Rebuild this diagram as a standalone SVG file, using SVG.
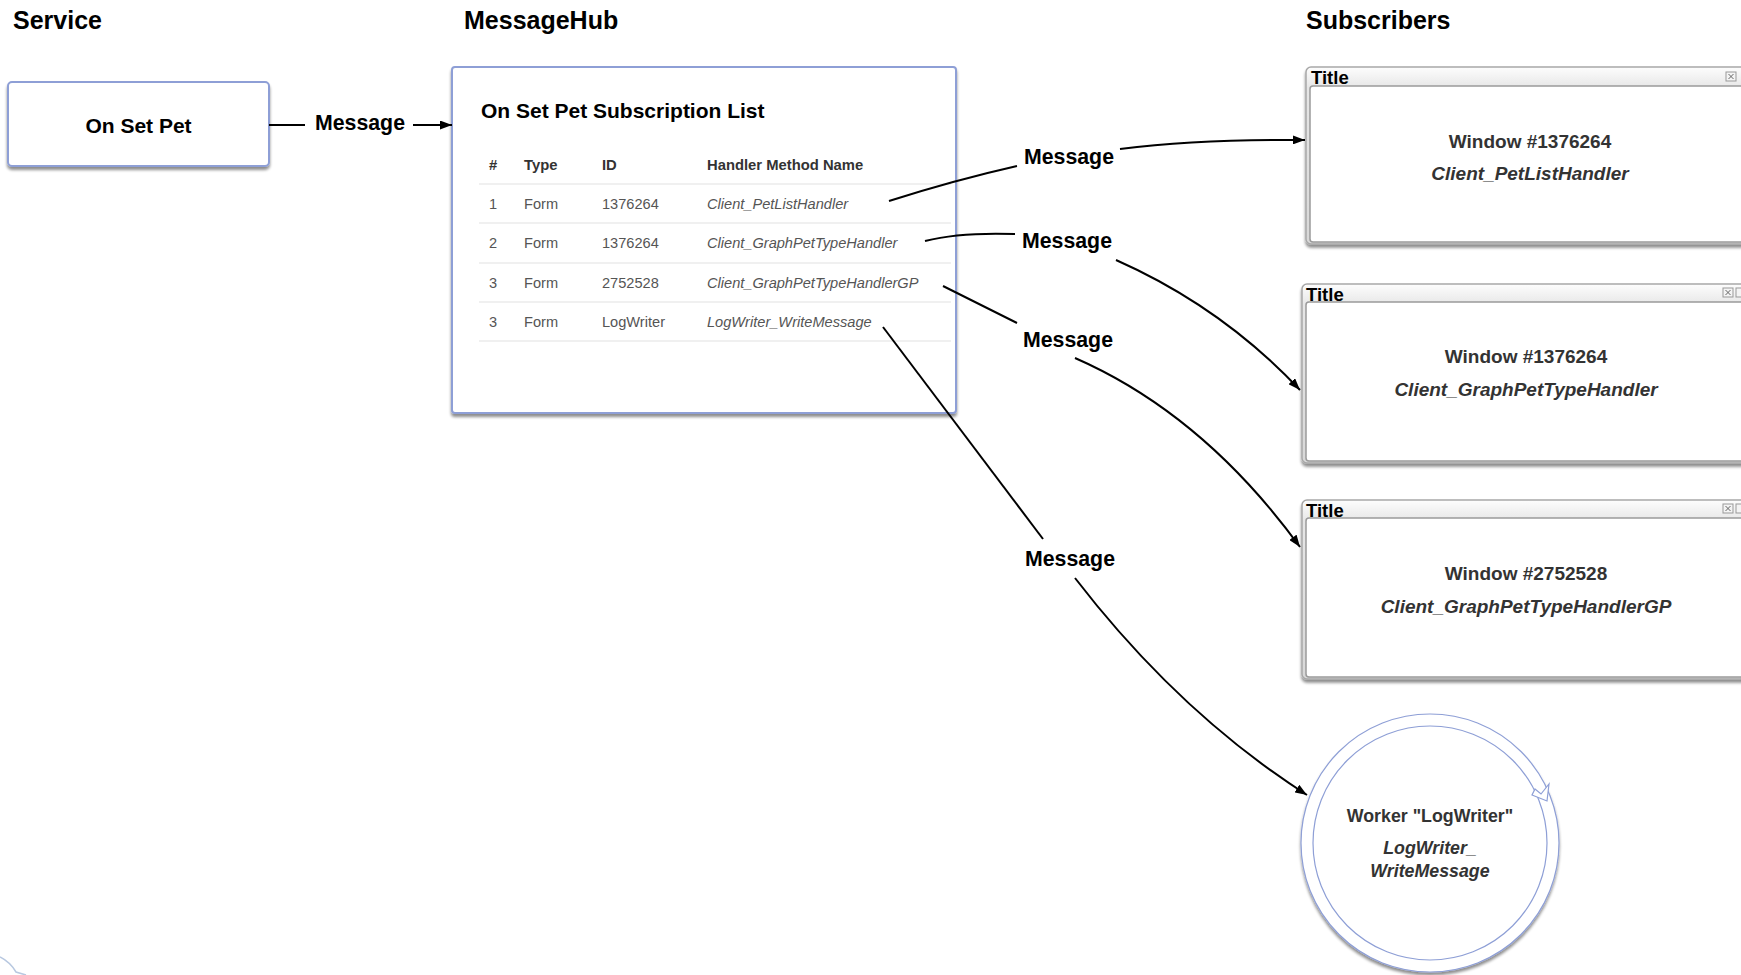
<svg xmlns="http://www.w3.org/2000/svg" width="1741" height="975" viewBox="0 0 1741 975">
<defs>
<style>
.title{font-family:"Liberation Sans",Arial,sans-serif;font-weight:bold;font-size:25px;fill:#000}
.lbl{font-family:"Liberation Sans",Arial,sans-serif;font-weight:bold;font-size:21.3px;fill:#000}
.hdr{font-family:"Liberation Sans",Arial,sans-serif;font-weight:bold;font-size:14.8px;fill:#333}
.cell{font-family:"Liberation Sans",Arial,sans-serif;font-size:14.6px;fill:#555}
.it{font-style:italic}
.win{font-family:"Liberation Sans",Arial,sans-serif;font-weight:bold;font-size:19px;fill:#333;text-anchor:middle}
.wt{font-family:"Liberation Sans",Arial,sans-serif;font-weight:bold;font-size:18.5px;fill:#000}
.wrk{font-family:"Liberation Sans",Arial,sans-serif;font-weight:bold;font-size:17.8px;fill:#333;text-anchor:middle}
.box{fill:#fff;stroke:#8e9fd6;stroke-width:2}
.rule{stroke:#e2e2e2;stroke-width:1.2}
.conn{fill:none;stroke:#000;stroke-width:2}
.frame{fill:url(#tb);stroke:#a8a8a8;stroke-width:1.5}
.content{fill:#fff;stroke:#9a9a9a;stroke-width:1.5}
.btn{fill:#f4f4f4;stroke:#999;stroke-width:1}
</style>
<linearGradient id="tb" x1="0" y1="0" x2="0" y2="1">
<stop offset="0" stop-color="#fdfdfd"/>
<stop offset="0.12" stop-color="#e6e6e6"/>
<stop offset="1" stop-color="#d8d8d8"/>
</linearGradient>
<filter id="sh" x="-5%" y="-5%" width="110%" height="115%">
<feGaussianBlur in="SourceAlpha" stdDeviation="1.5"/>
<feOffset dx="0" dy="3" result="b"/>
<feComponentTransfer><feFuncA type="linear" slope="0.45"/></feComponentTransfer>
<feMerge><feMergeNode/><feMergeNode in="SourceGraphic"/></feMerge>
</filter>
<marker id="ah" viewBox="0 0 12 9" refX="12" refY="4.5" markerWidth="12" markerHeight="9" markerUnits="userSpaceOnUse" orient="auto">
<path d="M0,0 L12,4.5 L0,9 z" fill="#000"/>
</marker>
</defs>
<rect width="1741" height="975" fill="#fff"/>

<text class="title" x="13" y="29">Service</text>
<text class="title" x="464" y="29">MessageHub</text>
<text class="title" x="1306" y="29">Subscribers</text>

<g id="service">
<rect class="box" x="8" y="82" width="261" height="84" rx="4" filter="url(#sh)"/>
<text class="lbl" x="138.5" y="133" text-anchor="middle" style="font-size:21px">On Set Pet</text>
</g>

<g id="hub">
<rect class="box" x="452" y="67" width="504" height="346" rx="3" filter="url(#sh)"/>
<text class="lbl" x="481" y="118" style="font-size:21px">On Set Pet Subscription List</text>
<text class="hdr" x="489" y="170">#</text>
<text class="hdr" x="524" y="170">Type</text>
<text class="hdr" x="602" y="170">ID</text>
<text class="hdr" x="707" y="170">Handler Method Name</text>
<line class="rule" x1="479" y1="184" x2="951" y2="184"/>
<line class="rule" x1="479" y1="223" x2="951" y2="223"/>
<line class="rule" x1="479" y1="263" x2="951" y2="263"/>
<line class="rule" x1="479" y1="302" x2="951" y2="302"/>
<line class="rule" x1="479" y1="341" x2="951" y2="341"/>
<text class="cell" x="489" y="209">1</text>
<text class="cell" x="524" y="209">Form</text>
<text class="cell" x="602" y="209">1376264</text>
<text class="cell it" x="707" y="209">Client_PetListHandler</text>
<text class="cell" x="489" y="248">2</text>
<text class="cell" x="524" y="248">Form</text>
<text class="cell" x="602" y="248">1376264</text>
<text class="cell it" x="707" y="248">Client_GraphPetTypeHandler</text>
<text class="cell" x="489" y="288">3</text>
<text class="cell" x="524" y="288">Form</text>
<text class="cell" x="602" y="288">2752528</text>
<text class="cell it" x="707" y="288">Client_GraphPetTypeHandlerGP</text>
<text class="cell" x="489" y="327">3</text>
<text class="cell" x="524" y="327">Form</text>
<text class="cell" x="602" y="327">LogWriter</text>
<text class="cell it" x="707" y="327">LogWriter_WriteMessage</text>
</g>

<g id="window1">
<rect class="frame" x="1306" y="67" width="460" height="177" rx="5" filter="url(#sh)"/>
<rect class="content" x="1310" y="86" width="460" height="156" rx="3"/>
<text class="wt" x="1311" y="84">Title</text>
<rect class="btn" x="1726" y="72" width="10" height="9"/>
<path d="M1728.5,74 L1733.5,79 M1733.5,74 L1728.5,79" stroke="#666" stroke-width="1"/>
<text class="win" x="1530" y="148">Window #1376264</text>
<text class="win it" x="1530" y="180">Client_PetListHandler</text>
</g>

<g id="window2">
<rect class="frame" x="1302" y="284" width="460" height="179" rx="5" filter="url(#sh)"/>
<rect class="content" x="1306" y="302" width="460" height="159" rx="3"/>
<text class="wt" x="1306" y="301">Title</text>
<rect class="btn" x="1723" y="288" width="10" height="9"/>
<path d="M1725.5,290 L1730.5,295 M1730.5,290 L1725.5,295" stroke="#666" stroke-width="1"/>
<rect class="btn" x="1736" y="288" width="10" height="9"/>
<text class="win" x="1526" y="363">Window #1376264</text>
<text class="win it" x="1526" y="396">Client_GraphPetTypeHandler</text>
</g>

<g id="window3">
<rect class="frame" x="1302" y="500" width="460" height="179" rx="5" filter="url(#sh)"/>
<rect class="content" x="1306" y="518" width="460" height="159" rx="3"/>
<text class="wt" x="1306" y="517">Title</text>
<rect class="btn" x="1723" y="504" width="10" height="9"/>
<path d="M1725.5,506 L1730.5,511 M1730.5,506 L1725.5,511" stroke="#666" stroke-width="1"/>
<rect class="btn" x="1736" y="504" width="10" height="9"/>
<text class="win" x="1526" y="580">Window #2752528</text>
<text class="win it" x="1526" y="613">Client_GraphPetTypeHandlerGP</text>
</g>

<g id="worker">
<circle cx="1430" cy="843" r="129" fill="#fff" stroke="#8e9fd6" stroke-width="1.2" filter="url(#sh)"/>
<circle cx="1430" cy="843" r="117" fill="#fff" stroke="#8e9fd6" stroke-width="1.2"/>
<path d="M1535,789 L1541,794 L1549,784 L1547,801 L1532,795 Z" fill="#fff" stroke="#8e9fd6" stroke-width="1.2"/>
<text class="wrk" x="1430" y="822">Worker "LogWriter"</text>
<text class="wrk it" x="1430" y="854">LogWriter_</text>
<text class="wrk it" x="1430" y="877">WriteMessage</text>
</g>

<g id="connectors">
<line class="conn" x1="269" y1="125" x2="305" y2="125"/>
<text class="lbl" x="315" y="130">Message</text>
<line class="conn" x1="413" y1="125" x2="452" y2="125" marker-end="url(#ah)"/>

<path class="conn" d="M889,201 Q955,180 1017,166"/>
<text class="lbl" x="1024" y="164">Message</text>
<path class="conn" d="M1120,149 Q1200,139 1305,140" marker-end="url(#ah)"/>

<path class="conn" d="M925,241 Q960,232 1015,234"/>
<text class="lbl" x="1022" y="248">Message</text>
<path class="conn" d="M1116,260 Q1222,307 1300,390" marker-end="url(#ah)"/>

<path class="conn" d="M943,286 L1017,323"/>
<text class="lbl" x="1023" y="347">Message</text>
<path class="conn" d="M1075,358 Q1203,414 1300,547" marker-end="url(#ah)"/>

<path class="conn" d="M883,327 L1043,539"/>
<text class="lbl" x="1025" y="566">Message</text>
<path class="conn" d="M1075,578 Q1179,713 1307,795" marker-end="url(#ah)"/>
</g>

<path d="M0,957 Q10,962 16,972 L26,975" fill="none" stroke="#b8c8e0" stroke-width="1.5"/>
</svg>
